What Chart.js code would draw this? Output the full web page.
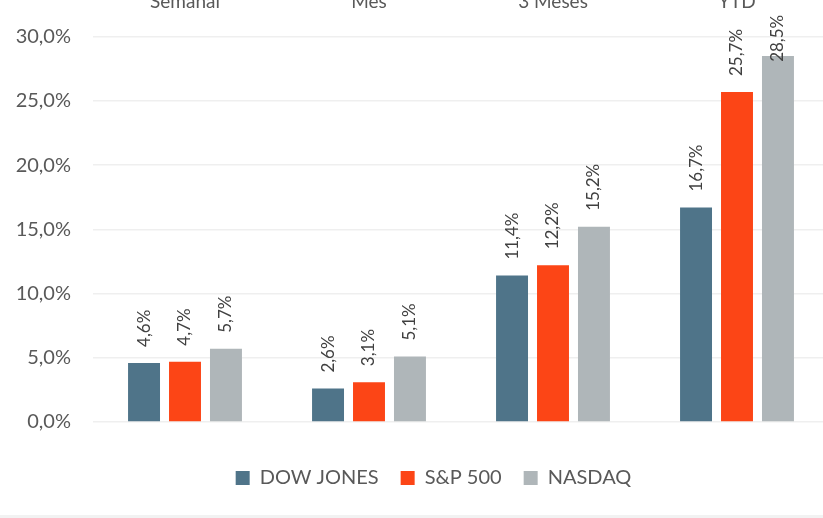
<!DOCTYPE html>
<html>
<head>
<meta charset="utf-8">
<script src="https://cdn.jsdelivr.net/npm/chart.js@4.4.1/dist/chart.umd.min.js"></script>
<style>
  html, body { margin: 0; padding: 0; background: #fff; }
  body { width: 823px; height: 518px; overflow: hidden; position: relative; }
  #wrap { position: absolute; left: 0; top: -52px; width: 832px; height: 570px; }
  #bottomLine { position: absolute; left: 0; top: 515px; width: 823px; height: 3px; background: #f2f2f2; }
</style>
</head>
<body>
<div id="wrap"><canvas id="grafico"></canvas></div>
<div id="bottomLine"></div>
<script>
var periodos = ["Semanal", "Mes", "3 Meses", "YTD"];
var dowJones = [4.6, 2.6, 11.4, 16.7];
var sp500 = [4.7, 3.1, 12.2, 25.7];
var nasdaq = [5.7, 5.1, 15.2, 28.5];
var ticksY = [0, 5, 10, 15, 20, 25, 30];

function fmt(v) {
    return v.toFixed(1).replace('.', ',') + '%';
}

// etiquetas verticales encima de cada barra
var etiquetas = {
    id: 'etiquetas',
    afterLayout: function(chart) {
        // centrar la leyenda como en el original
        chart.legend.left += 14;
        chart.legend.right += 14;
    },
    afterDatasetsDraw: function(chart) {
        var ctx = chart.ctx;
        var limite = chart.chartArea.top - 22; // no salir por arriba
        ctx.save();
        ctx.font = '17px Lato';
        ctx.fillStyle = '#404040';
        ctx.textAlign = 'left';
        ctx.textBaseline = 'middle';
        chart.data.datasets.forEach(function(ds, i) {
            chart.getDatasetMeta(i).data.forEach(function(bar, j) {
                var txt = fmt(ds.data[j]);
                var w = ctx.measureText(txt).width;
                var y = bar.y - 16;
                if (y - w < limite) y = limite + w;
                ctx.save();
                ctx.translate(bar.x, y);
                ctx.rotate(-Math.PI / 2);
                ctx.fillText(txt, 0, 0);
                ctx.restore();
            });
        });
        ctx.restore();
    }
};

var ctx = document.getElementById('grafico').getContext('2d');
var chart = new Chart(ctx, {
    type: 'bar',
    data: {
        labels: periodos,
        datasets: [
            { label: "DOW JONES", data: dowJones, backgroundColor: "#4F7489" },
            { label: "S&P 500", data: sp500, backgroundColor: "#FC4516" },
            { label: "NASDAQ", data: nasdaq, backgroundColor: "#AFB6B9" }
        ]
    },
    options: {
        responsive: true,
        maintainAspectRatio: false,
        animation: false,
        layout: { padding: { left: 10, right: 3, top: 18, bottom: 20 } },
        datasets: { bar: { categoryPercentage: 0.668, barPercentage: 0.78 } },
        scales: {
            x: {
                position: 'top',
                grid: { display: false, drawTicks: false },
                border: { display: false },
                ticks: { color: '#595959', font: { family: 'Lato', size: 19 }, padding: 24 }
            },
            y: {
                min: 0,
                max: 30,
                afterBuildTicks: function(s) { s.ticks = ticksY.map(function(v) { return { value: v }; }); },
                afterFit: function(s) { s.width = 83; },
                grid: { color: '#efefef', lineWidth: 1.5, drawTicks: false },
                border: { display: false },
                ticks: {
                    color: '#595959',
                    font: { family: 'Lato', size: 20 },
                    padding: 22,
                    callback: function(v) { return fmt(v); }
                }
            }
        },
        plugins: {
            legend: {
                position: 'bottom',
                title: { display: true, text: ' ', font: { size: 10 }, padding: { top: 12, bottom: 0 } },
                labels: {
                    boxWidth: 14,
                    boxHeight: 14,
                    padding: 22,
                    color: '#595959',
                    font: { family: 'Lato', size: 20 }
                }
            },
            tooltip: { enabled: false }
        }
    },
    plugins: [etiquetas]
});
</script>
</body>
</html>
